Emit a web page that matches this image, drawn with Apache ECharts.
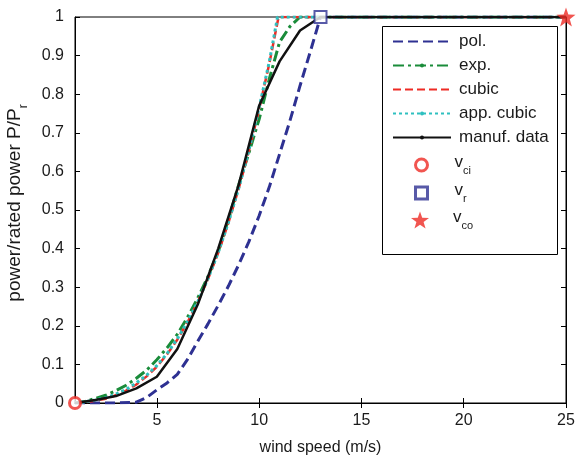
<!DOCTYPE html>
<html>
<head>
<meta charset="utf-8">
<script src="https://cdn.jsdelivr.net/npm/echarts@6/dist/echarts.min.js"></script>
<style>html,body{margin:0;padding:0;background:#fff}#c{width:576px;height:459px}</style>
</head>
<body>
<div id="c"></div>
<script>
// ---- data ----
var xTicks = [5, 10, 15, 20, 25];
var polSpeed   = [1, 2, 3, 4, 4.5, 5, 5.5, 6, 6.5, 7, 7.5, 8, 8.5, 9, 9.5, 10, 10.5, 11, 11.5, 12, 12.5, 13, 25];
var polPower   = [0, 0, 0, 0.002, 0.014, 0.034, 0.052, 0.074, 0.113, 0.16, 0.205, 0.253, 0.303, 0.358, 0.418, 0.485, 0.56, 0.645, 0.73, 0.822, 0.91, 1, 1];
var expSpeed   = [1, 1.5, 2, 2.5, 3, 3.5, 4, 4.5, 5, 5.5, 6, 6.5, 7, 7.5, 8, 8.5, 9, 9.5, 10, 10.5, 11, 11.5, 12, 25];
var expPower   = [0, 0.004, 0.012, 0.02, 0.032, 0.046, 0.064, 0.085, 0.112, 0.143, 0.178, 0.222, 0.272, 0.328, 0.392, 0.475, 0.565, 0.648, 0.735, 0.84, 0.935, 0.975, 1, 1];
var cubSpeed   = [1, 1.5, 2, 2.5, 3, 3.5, 4, 4.5, 5, 5.5, 6, 6.5, 7, 7.5, 8, 8.5, 9, 9.5, 10, 10.5, 10.95, 25];
var cubPower   = [0, 0.002, 0.006, 0.011, 0.02, 0.032, 0.048, 0.069, 0.094, 0.126, 0.164, 0.209, 0.261, 0.321, 0.389, 0.467, 0.555, 0.653, 0.761, 0.88, 1, 1];
var appSpeed   = [1, 1.5, 2, 2.5, 3, 3.5, 4, 4.5, 5, 5.5, 6, 6.5, 7, 7.5, 8, 8.5, 9, 9.5, 10, 10.5, 10.9, 25];
var appPower   = [0, 0.003, 0.008, 0.014, 0.023, 0.035, 0.052, 0.072, 0.097, 0.128, 0.166, 0.211, 0.262, 0.322, 0.39, 0.468, 0.556, 0.655, 0.765, 0.885, 1, 1];
var manSpeed   = [1, 2, 3, 4, 5, 6, 7, 8, 9, 10, 11, 12, 13, 14, 15, 16, 17, 18, 19, 20, 21, 22, 23, 24, 25];
var manPower   = [0, 0.008, 0.018, 0.038, 0.068, 0.14, 0.255, 0.40, 0.565, 0.77, 0.885, 0.965, 1, 1, 1, 1, 1, 1, 1, 1, 1, 1, 1, 1, 1];
var vci = [1, 0];
var vr  = [13, 1];
var vco = [25, 1];

function pairs(xs, ys) { return xs.map(function (x, i) { return [x, ys[i]]; }); }

var FONT = 'Liberation Sans, Arial, sans-serif';
var TXT = '#1a1a1a';
var RED = '#ee2b24', NAVY = '#2e3192';
var chart = echarts.init(document.getElementById('c'), null, {renderer: 'canvas'});

var lineBase = {type: 'line', symbol: 'circle', symbolSize: 4, showSymbol: false, smooth: false, animation: false, z: 3};
var subStyle = {fontSize: 11, color: TXT, fontFamily: FONT, verticalAlign: 'bottom', lineHeight: 22};
function markerRich(pad) {
  return {
    v: {fontSize: 17, color: TXT, fontFamily: FONT, verticalAlign: 'top', lineHeight: 17, padding: [0, 0, 0, pad]},
    s: subStyle
  };
}

chart.setOption({
  animation: false,
  textStyle: {fontFamily: FONT},
  grid: {left: 75, right: 10, top: 17, bottom: 56, show: true, borderColor: '#000', borderWidth: 1,
    containLabel: false, outerBoundsMode: 'none'},
  xAxis: [{
    type: 'value', min: 1, max: 25, position: 'bottom',
    name: 'wind speed (m/s)', nameLocation: 'middle', nameGap: 37,
    nameTextStyle: {fontSize: 16, color: TXT, fontFamily: FONT},
    splitLine: {show: false},
    axisLine: {show: true, lineStyle: {color: '#000', width: 1}},
    axisTick: {show: true, inside: true, length: 5, customValues: xTicks, lineStyle: {color: '#000'}},
    axisLabel: {customValues: xTicks, fontSize: 16, color: TXT, margin: 10, fontFamily: FONT}
  }, {
    type: 'value', min: 1, max: 25, position: 'top',
    splitLine: {show: false},
    axisLine: {show: true, lineStyle: {color: '#000', width: 1}},
    axisTick: {show: true, inside: true, length: 5, customValues: xTicks, lineStyle: {color: '#000'}},
    axisLabel: {show: false}
  }],
  yAxis: [{
    type: 'value', min: 0, max: 1, interval: 0.1, position: 'left',
    name: '{n|power/rated power P/P}{s|r}', nameLocation: 'middle', nameGap: 45, nameRotate: 90,
    nameTextStyle: {color: TXT, fontFamily: FONT, padding: [0, 0, 0, 14], rich: {
      n: {fontSize: 19, color: TXT, fontFamily: FONT, verticalAlign: 'top', lineHeight: 19},
      s: {fontSize: 12, color: TXT, fontFamily: FONT, verticalAlign: 'bottom', lineHeight: 25}
    }},
    splitLine: {show: false},
    axisLine: {show: true, lineStyle: {color: '#000', width: 1}},
    axisTick: {show: true, inside: true, length: 5, lineStyle: {color: '#000'}},
    axisLabel: {fontSize: 16, color: TXT, margin: 11, fontFamily: FONT,
      formatter: function (v) { return String(+v.toFixed(1)); }}
  }, {
    type: 'value', min: 0, max: 1, interval: 0.1, position: 'right',
    splitLine: {show: false},
    axisLine: {show: true, lineStyle: {color: '#000', width: 1}},
    axisTick: {show: true, inside: true, length: 5, lineStyle: {color: '#000'}},
    axisLabel: {show: false}
  }],
  graphic: [{
    type: 'rect', left: 382, top: 26, z: 10,
    shape: {width: 175, height: 228},
    style: {fill: '#fff', stroke: '#000', lineWidth: 1}
  }],
  legend: [{
    data: [
      {name: 'pol.', itemStyle: {opacity: 0}},
      {name: 'exp.'},
      {name: 'cubic', itemStyle: {opacity: 0}},
      {name: 'app. cubic'},
      {name: 'manuf. data'}
    ],
    orient: 'vertical', left: 392, top: 33, padding: 0, itemWidth: 58, itemHeight: 5, itemGap: 7, z: 11,
    selectedMode: false,
    formatter: function (n) { return '{t|' + n + '}'; },
    textStyle: {fontSize: 17, color: TXT, fontFamily: FONT, lineHeight: 17,
      rich: {t: {fontSize: 17, color: TXT, fontFamily: FONT, lineHeight: 17, padding: [0, 0, 0, 3]}}}
  }, {
    data: [
      {name: 'vci', icon: 'circle', itemStyle: {color: '#fff', borderColor: RED, borderWidth: 3}},
      {name: 'vr', icon: 'rect', itemStyle: {color: '#fff', borderColor: NAVY, borderWidth: 3}}
    ],
    orient: 'vertical', left: 414, top: 154, padding: 0, itemWidth: 12, itemHeight: 12, itemGap: 6, z: 11,
    selectedMode: false,
    formatter: function (n) { return '{v|v}{s|' + n.slice(1) + '}'; },
    textStyle: {fontSize: 17, color: TXT, fontFamily: FONT, rich: markerRich(22)}
  }, {
    data: ['vco'],
    orient: 'vertical', left: 411, top: 209, padding: 0, itemWidth: 18, itemHeight: 18, z: 11,
    selectedMode: false,
    formatter: function (n) { return '{v|v}{s|' + n.slice(1) + '}'; },
    textStyle: {fontSize: 17, color: TXT, fontFamily: FONT, rich: markerRich(19)}
  }],
  series: [
    Object.assign({}, lineBase, {name: 'pol.', data: pairs(polSpeed, polPower), color: NAVY,
      lineStyle: {color: NAVY, width: 3, type: [10, 5]}}),
    Object.assign({}, lineBase, {name: 'exp.', data: pairs(expSpeed, expPower), color: '#1a8c3a',
      lineStyle: {color: '#1a8c3a', width: 3, type: [11, 4, 3, 4]}}),
    Object.assign({}, lineBase, {name: 'cubic', data: pairs(cubSpeed, cubPower), color: RED,
      lineStyle: {color: RED, width: 2.5, type: [8, 4]}}),
    Object.assign({}, lineBase, {name: 'app. cubic', data: pairs(appSpeed, appPower), color: '#2ec0c0',
      lineStyle: {color: '#2ec0c0', width: 3, type: [3, 3]}}),
    Object.assign({}, lineBase, {name: 'manuf. data', data: pairs(manSpeed, manPower), color: '#111',
      lineStyle: {color: '#111', width: 2.5, type: 'solid'}}),
    {type: 'scatter', name: 'vci', data: [vci], symbol: 'circle', symbolSize: 11, clip: false, z: 5,
      itemStyle: {color: '#fff', borderColor: RED, borderWidth: 3}},
    {type: 'scatter', name: 'vr', data: [vr], symbol: 'rect', symbolSize: 12, clip: false, z: 5,
      itemStyle: {color: '#fff', borderColor: NAVY, borderWidth: 2}},
    {type: 'scatter', name: 'vco', data: [vco], symbol: 'path://M0,-10 L2.35,-3.24 L9.51,-3.09 L3.8,1.24 L5.88,8.09 L0,4 L-5.88,8.09 L-3.8,1.24 L-9.51,-3.09 L-2.35,-3.24 Z',
      symbolSize: 19, clip: false, z: 5, itemStyle: {color: RED}}
  ]
});
</script>
</body>
</html>
